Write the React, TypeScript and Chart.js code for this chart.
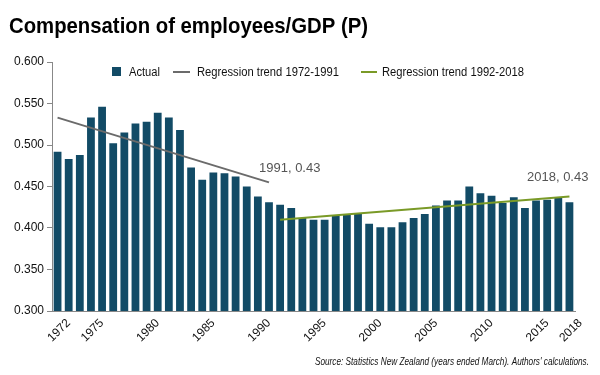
import React, { useEffect, useRef } from "react";
import { Chart, registerables } from "chart.js";

Chart.register(...registerables);

const years = [
  "1972", "1973", "1974", "1975", "1976", "1977", "1978", "1979", "1980", "1981",
  "1982", "1983", "1984", "1985", "1986", "1987", "1988", "1989", "1990", "1991",
  "1992", "1993", "1994", "1995", "1996", "1997", "1998", "1999", "2000", "2001",
  "2002", "2003", "2004", "2005", "2006", "2007", "2008", "2009", "2010", "2011",
  "2012", "2013", "2014", "2015", "2016", "2017", "2018",
];

const actual = [
  0.492, 0.483, 0.488, 0.533, 0.546, 0.502, 0.515, 0.526, 0.528, 0.539,
  0.533, 0.518, 0.473, 0.458, 0.467, 0.466, 0.462, 0.450, 0.438, 0.431,
  0.428, 0.424, 0.412, 0.410, 0.410, 0.415, 0.416, 0.418, 0.405, 0.401,
  0.401, 0.407, 0.412, 0.417, 0.427, 0.433, 0.433, 0.450, 0.442, 0.439,
  0.430, 0.437, 0.424, 0.433, 0.434, 0.436, 0.431,
];

const trend1Years = ["1972", "1991"];
const trend1Values = [0.533, 0.455];
const trend2Years = ["1992", "2018"];
const trend2Values = [0.410, 0.438];

const shownYears = ["1972", "1975", "1980", "1985", "1990", "1995", "2000", "2005", "2010", "2015", "2018"];
const yTicks = [0.3, 0.35, 0.4, 0.45, 0.5, 0.55, 0.6];

const titleText = "Compensation of employees/GDP (P)";
const sourceText = "Source: Statistics New Zealand (years ended March). Authors' calculations.";
const note1 = { year: "1991", value: 0.43, text: "1991, 0.43" };
const note2 = { year: "2018", value: 0.43, text: "2018, 0.43" };

const BAR = "#124b66";
const GREY = "#6b6b6b";
const GREEN = "#7a9a27";
const FONT = "'Liberation Sans Narrow', 'Arial Narrow', 'Liberation Sans', Arial, sans-serif";

const toSeries = (ys: string[], vs: number[]) =>
  years.map((y) => {
    const i = ys.indexOf(y);
    return i >= 0 ? vs[i] : null;
  });

const overlayPlugin = {
  id: "overlay",
  afterDraw(chart: any) {
    const ctx = chart.ctx as CanvasRenderingContext2D;
    const x = chart.scales.x;
    const y = chart.scales.y;
    ctx.save();
    // title
    ctx.fillStyle = "#000";
    ctx.textBaseline = "alphabetic";
    ctx.textAlign = "left";
    ctx.font = `bold 22px 'Liberation Sans', Arial, sans-serif`;
    ctx.fillText(titleText, 9, 33, 359);

    // legend
    const ly = 72;
    ctx.font = `12px 'Liberation Sans', Arial, sans-serif`;
    ctx.fillStyle = BAR;
    ctx.fillRect(112, 67, 9, 9);
    ctx.fillStyle = "#111";
    ctx.textBaseline = "middle";
    ctx.fillText(chart.data.datasets[0].label, 129, ly + 1, 31);
    ctx.strokeStyle = GREY;
    ctx.lineWidth = 2;
    ctx.beginPath();
    ctx.moveTo(173, ly);
    ctx.lineTo(190, ly);
    ctx.stroke();
    ctx.fillText(chart.data.datasets[1].label, 197, ly + 1, 142);
    ctx.strokeStyle = GREEN;
    ctx.beginPath();
    ctx.moveTo(361, ly);
    ctx.lineTo(377, ly);
    ctx.stroke();
    ctx.fillText(chart.data.datasets[2].label, 382, ly + 1, 142);

    // notes
    ctx.textBaseline = "alphabetic";
    ctx.fillStyle = "#555";
    ctx.font = `13px 'Liberation Sans', Arial, sans-serif`;
    const n1x = x.getPixelForValue(years.indexOf(note1.year));
    ctx.fillText(note1.text, n1x - 10, y.getPixelForValue(0.4675), 62);
    const n2x = x.getPixelForValue(years.indexOf(note2.year));
    ctx.textAlign = "right";
    ctx.fillText(note2.text, n2x + 19, y.getPixelForValue(0.457), 64);

    // source
    ctx.fillStyle = "#111";
    ctx.font = `italic 10px 'Liberation Sans', Arial, sans-serif`;
    ctx.fillText(sourceText, 589, 365, 274);
    ctx.restore();
  },
};

export default function App() {
  const ref = useRef<HTMLCanvasElement | null>(null);
  useEffect(() => {
    if (!ref.current) return;
    const chart = new Chart(ref.current, {
      type: "bar",
      data: {
        labels: years,
        datasets: [
          {
            type: "bar",
            label: "Actual",
            data: actual,
            backgroundColor: BAR,
            barPercentage: 0.7,
            categoryPercentage: 1,
            order: 2,
          },
          {
            type: "line",
            label: "Regression trend 1972-1991",
            data: toSeries(trend1Years, trend1Values),
            borderColor: GREY,
            borderWidth: 2,
            pointRadius: 0,
            spanGaps: true,
            order: 1,
          },
          {
            type: "line",
            label: "Regression trend 1992-2018",
            data: toSeries(trend2Years, trend2Values),
            borderColor: GREEN,
            borderWidth: 2,
            pointRadius: 0,
            spanGaps: true,
            order: 0,
          },
        ] as any,
      },
      options: {
        animation: false,
        responsive: false,
        maintainAspectRatio: false,
        layout: { padding: { left: 0, top: 62, right: 25, bottom: 0 } },
        plugins: {
          legend: { display: false },
          title: { display: false },
          tooltip: { enabled: false },
        },
        scales: {
          x: {
            grid: { display: false, drawTicks: false },
            border: { display: true, color: "#888", width: 1 },
            ticks: {
              autoSkip: false,
              minRotation: 45,
              maxRotation: 45,
              padding: 5,
              labelOffset: 11,
              color: "#111",
              font: { size: 12, family: FONT },
              callback: (v: any, i: number) => (shownYears.includes(years[i]) ? years[i] : ""),
            },
            afterFit: (s: any) => {
              s.height = 64;
            },
          },
          y: {
            min: 0.3,
            max: 0.6,
            grid: { display: true, drawOnChartArea: false, drawTicks: true, tickLength: 5, color: "#888" },
            border: { display: true, color: "#888", width: 1 },
            afterBuildTicks: (s: any) => {
              s.ticks = yTicks.map((v) => ({ value: v }));
            },
            ticks: {
              color: "#111",
              padding: 3,
              font: { size: 12, family: FONT },
              callback: (v: any) => Number(v).toFixed(3),
            },
            afterFit: (s: any) => {
              s.width = 52;
            },
          },
        },
      },
      plugins: [overlayPlugin],
    });
    return () => chart.destroy();
  }, []);
  return (
    <div style={{ position: "absolute", left: 0, top: 0, width: 600, height: 375, background: "#fff" }}>
      <canvas ref={ref} width={600} height={375} style={{ display: "block" }} />
    </div>
  );
}
